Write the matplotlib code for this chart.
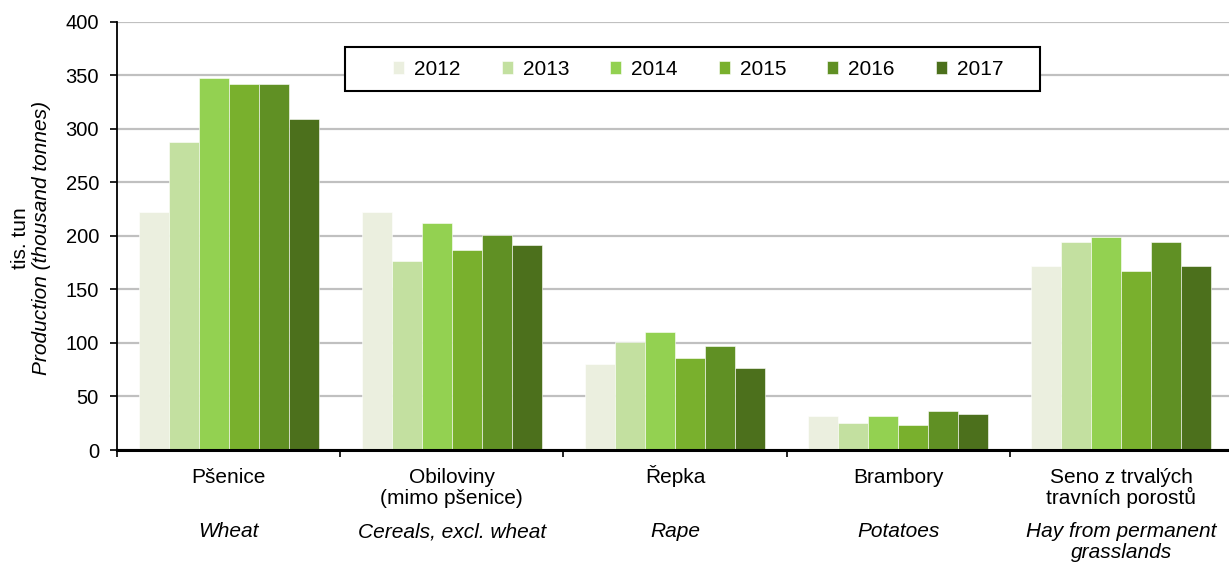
import numpy as np
import matplotlib
matplotlib.use("Agg")
import matplotlib.pyplot as plt
from matplotlib.patches import Rectangle

plt.rcParams['font.family'] = ['Liberation Sans', 'DejaVu Sans']

years = ['2012', '2013', '2014', '2015', '2016', '2017']
labels_cz = [['Pšenice'], ['Obiloviny', '(mimo pšenice)'], ['Řepka'], ['Brambory'],
             ['Seno z trvalých', 'travních porostů']]
labels_en = [['Wheat'], ['Cereals, excl. wheat'], ['Rape'], ['Potatoes'],
             ['Hay from permanent', 'grasslands']]

# thousand tonnes, one list per year, columns = crops
v2012 = [222, 222, 80, 32, 172]
v2013 = [288, 177, 101, 25, 194]
v2014 = [348, 212, 110, 32, 199]
v2015 = [342, 187, 86, 23, 167]
v2016 = [342, 201, 97, 36, 194]
v2017 = [309, 192, 77, 34, 172]
series = [v2012, v2013, v2014, v2015, v2016, v2017]

colors = ['#EBEFDF', '#C3E0A0', '#93D151', '#79B02D', '#609024', '#4C701C']

fig = plt.figure(figsize=(12.29, 5.63), dpi=100)
ax = fig.add_axes([0.0952, 0.2007, 0.908, 0.7603])

x = np.arange(len(labels_cz))
bw = 0.807 / 6
for i, (yr, vals) in enumerate(zip(years, series)):
    ax.bar(x + (i - 2.5) * bw, vals, bw, color=colors[i], label=yr,
           edgecolor='white', linewidth=0.4, zorder=2)

ax.set_xlim(-0.5, len(labels_cz) - 0.5)
ax.set_ylim(0, 400)
ax.set_yticks(range(0, 401, 50))
ax.tick_params(axis='y', labelsize=14.5, direction='out', length=5, width=1.2, pad=8)
ax.set_xticks(np.arange(-0.5, len(labels_cz)))
ax.set_xticklabels([])
ax.tick_params(axis='x', direction='out', length=5, width=1.2)
ax.yaxis.grid(True, color='#C0C0C0', linewidth=1.6, zorder=0)
ax.set_axisbelow(True)
for s in ['top', 'right']:
    ax.spines[s].set_visible(False)
ax.spines['left'].set_linewidth(1.3)
ax.spines['bottom'].set_linewidth(2.2)

# category labels, Czech and English, one line at a time
trans = ax.get_xaxis_transform()
line_step = 0.049
for xi, cz, en in zip(x, labels_cz, labels_en):
    for k, line in enumerate(cz):
        ax.text(xi, -0.0771 - k * line_step, line, transform=trans, ha='center',
                va='baseline', fontsize=15)
    for k, line in enumerate(en):
        ax.text(xi, -0.2033 - k * line_step, line, transform=trans, ha='center',
                va='baseline', fontsize=15, style='italic')

fig.text(0.0163, 0.577, 'tis. tun', rotation=90, ha='center', va='center', fontsize=15)
fig.text(0.0335, 0.577, 'Production (thousand tonnes)', rotation=90, ha='center',
         va='center', fontsize=15, style='italic')

# legend box drawn separately so its size matches the original
ax.add_patch(Rectangle((0.2043, 0.839), 0.6227, 0.1026, transform=ax.transAxes,
                       facecolor='white', edgecolor='black', linewidth=1.5, zorder=3))
leg = ax.legend(loc='center', bbox_to_anchor=(0.521, 0.890), ncol=6, fontsize=15,
                frameon=False, handlelength=0.53, handleheight=0.58,
                columnspacing=1.97, handletextpad=0.48, borderpad=0.3)
leg.set_zorder(4)

fig.savefig('out.png', dpi=100)
